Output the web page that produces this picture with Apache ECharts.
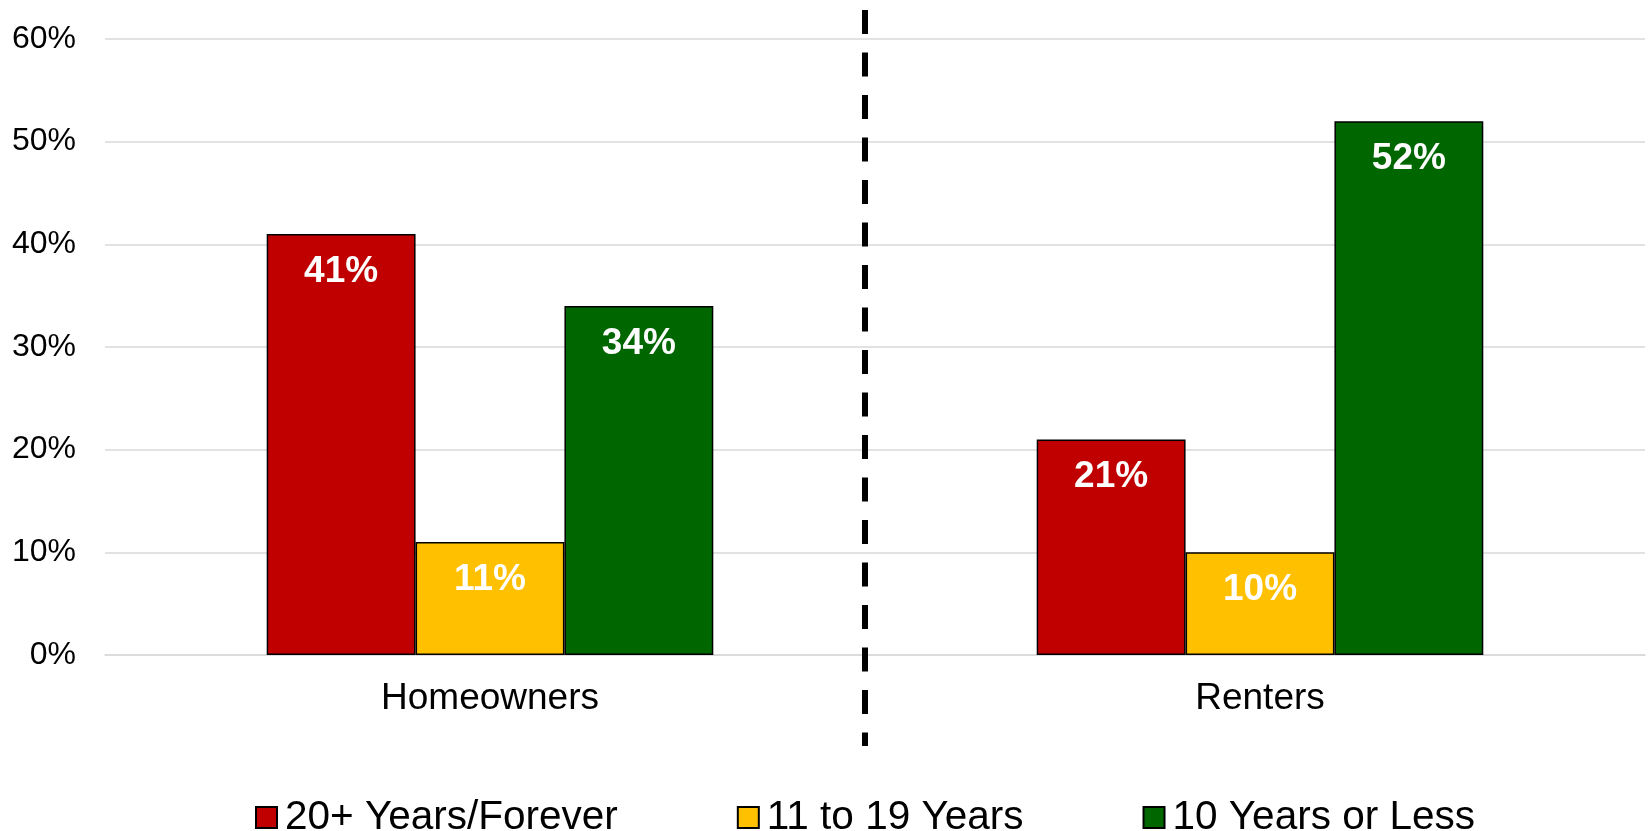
<!DOCTYPE html>
<html>
<head>
<meta charset="utf-8">
<script src="https://cdn.jsdelivr.net/npm/echarts@6/dist/echarts.min.js"></script>
<style>
	html, body { margin: 0; padding: 0; background: #fff; }
	#chart { width: 1651px; height: 831px; }
</style>
</head>
<body>
<div id="chart"></div>
<script>
// 카테고리
let groupList = ['Homeowners', 'Renters'];
// 시리즈 이름
let seriesNames = ['20+ Years/Forever', '11 to 19 Years', '10 Years or Less'];
// 시리즈 값 (%)
let foreverData = [41, 21];
let midData = [11, 10];
let shortData = [34, 52];
// y축 눈금
let yTicks = [0, 10, 20, 30, 40, 50, 60];

let colorList = ['#C00000', '#FFC000', '#006600'];
let valueList = [foreverData, midData, shortData];

let font = '"Liberation Sans", Arial, Helvetica, sans-serif';

let seriesList = [];
for (let i = 0; i < seriesNames.length; i++) {
	seriesList.push({
		name: seriesNames[i],
		type: 'bar',
		data: valueList[i],
		barGap: '0%',
		barCategoryGap: '42%',
		itemStyle: {
			color: colorList[i],
			borderColor: '#000',
			borderWidth: 1.5
		},
		label: {
			show: true,
			position: 'insideTop',
			distance: 19,
			formatter: '{c}%',
			color: '#fff',
			fontSize: 37,
			fontWeight: 'bold',
			fontFamily: font
		}
	});
}

var myChart = echarts.init(document.getElementById('chart'));

var option = {
	animation: false,
	grid: {
		left: 105,
		right: 6,
		top: 39,
		bottom: 176,
		containLabel: false
	},
	legend: {
		left: 250,
		top: 792,
		itemWidth: 21,
		itemHeight: 21,
		itemGap: 119,
		textStyle: {
			fontSize: 40.5,
			color: '#000',
			fontFamily: font,
			padding: [0, 0, 0, 3]
		},
		icon: 'rect',
		data: seriesNames
	},
	xAxis: {
		type: 'category',
		data: groupList,
		axisLine: { show: true, lineStyle: { color: '#d9d9d9', width: 1.5 } },
		axisTick: { show: false },
		axisLabel: {
			color: '#000',
			fontSize: 37,
			fontFamily: font,
			margin: 25
		}
	},
	yAxis: {
		type: 'value',
		min: yTicks[0],
		max: yTicks[yTicks.length - 1],
		interval: 10,
		axisLine: { show: false },
		axisTick: { show: false },
		splitLine: { lineStyle: { color: '#d9d9d9', width: 1.5 } },
		axisLabel: {
			formatter: '{value}%',
			color: '#000',
			fontSize: 32,
			fontFamily: font,
			margin: 29
		}
	},
	// 가운데 점선 구분선
	graphic: [
		{
			type: 'line',
			shape: { x1: 865, y1: 10, x2: 865, y2: 746 },
			style: { stroke: '#000', lineWidth: 6, lineDash: [24, 18.5] },
			z: 10
		}
	],
	series: seriesList
};

myChart.setOption(option);
</script>
</body>
</html>
